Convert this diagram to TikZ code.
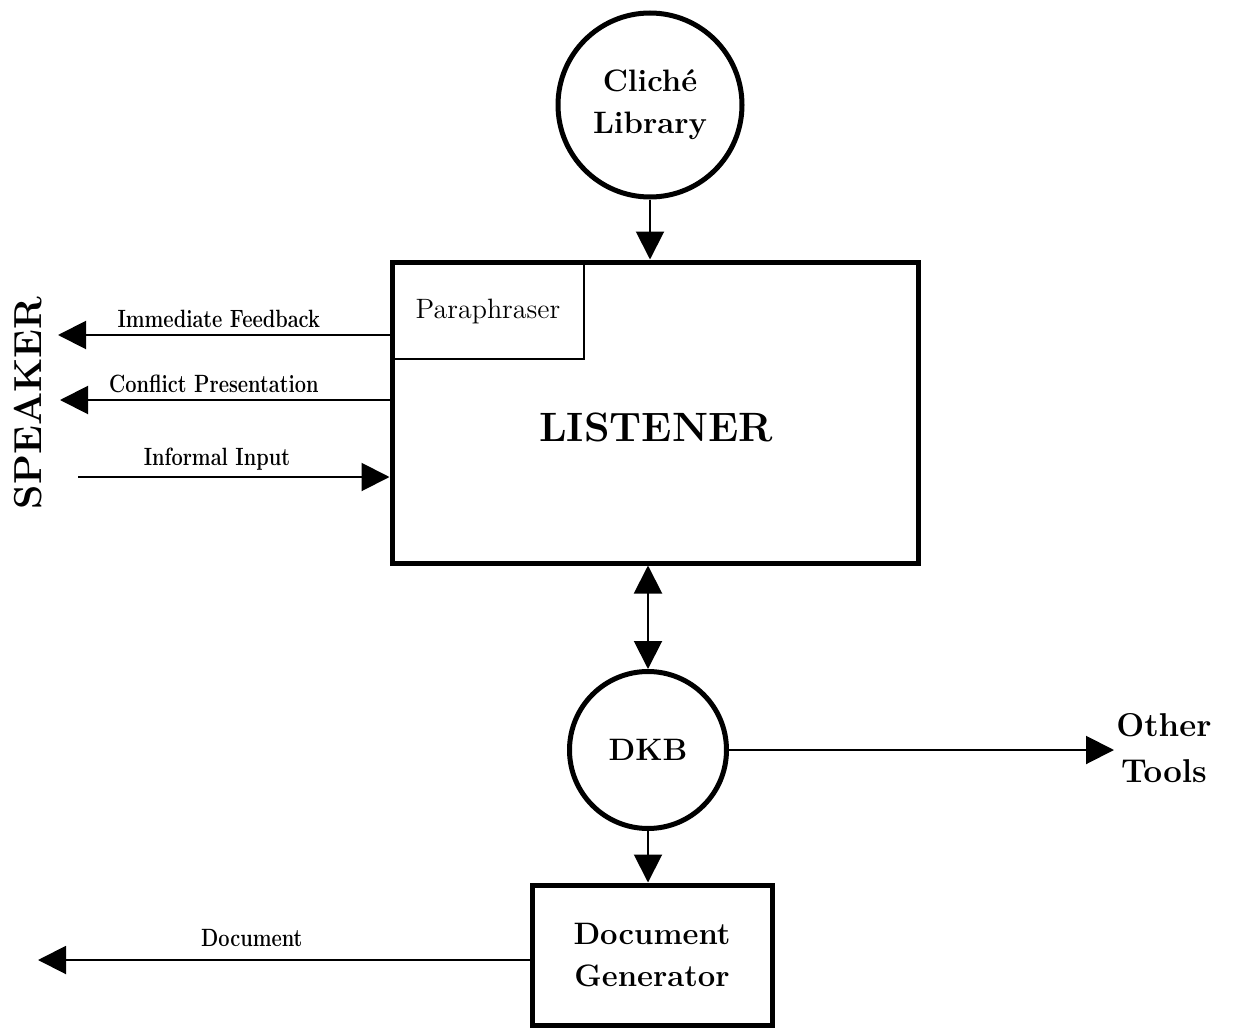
\documentclass[tikz,border=0pt]{standalone}
\usetikzlibrary{arrows.meta,positioning,calc}
\newcommand\cndtext[1]{\scalebox{0.8}[1]{#1}}
\begin{document}
\begin{tikzpicture}[x=0.5pt,y=-0.5pt,
  thickline/.style={line width=2.5pt},
  arr/.style={line width=1pt,-{Triangle[length=14pt,width=14pt]}},
  darr/.style={line width=1pt,{Triangle[length=14pt,width=14pt]}-{Triangle[length=14pt,width=14pt]}},
  bigcirc/.style={circle,thickline,draw,inner sep=0pt,align=center,font=\fontsize{15.5}{21}\bfseries\selectfont},
  bigbox/.style={rectangle,thickline,draw,inner sep=0pt,align=center,font=\fontsize{15.5}{21}\bfseries\selectfont},
  lbl/.style={font=\fontsize{12.5}{14}\bfseries\selectfont,inner sep=3pt}
]
\useasboundingbox (0,0) rectangle (1233,1028);

% nodes
\node[bigcirc,minimum size=92pt] (cliche) at (650,105) {Clich\'e\\Library};
\node[bigbox,minimum width=263pt,minimum height=150.5pt] (listener) at (655,412.5) {};
\node[font=\fontsize{20.5}{24}\bfseries\selectfont] (listenerlabel) at (656,427) {LISTENER};
\node[rectangle,draw,line width=1.3pt,minimum width=96pt,minimum height=48pt,inner sep=0pt,
      font=\fontsize{14}{16}\selectfont] (para) at (488,311) {Paraphraser};
\node[font=\fontsize{19.5}{22}\bfseries\selectfont,rotate=90] (speaker) at (28,403) {SPEAKER};
\node[bigcirc,minimum size=78.5pt] (dkb) at (648,750) {DKB};
\node[anchor=west,inner sep=1pt,align=center,font=\fontsize{16.5}{23}\bfseries\selectfont] (other) at (1114,748) {Other\\Tools};
\node[bigbox,minimum width=120pt,minimum height=70pt] (docgen) at (652,955) {Document\\Generator};

% free ends
\coordinate (ifEnd) at (58,335);
\coordinate (cpEnd) at (60,400);
\coordinate (iiStart) at (78,477);
\coordinate (docEnd) at (38,960);

% connectors
\draw[arr] (cliche.south) -- (cliche.south |- listener.north);
\draw[arr] (ifEnd -| listener.west) -- node[lbl,above,pos=0.515] {\cndtext{Immediate Feedback}} (ifEnd);
\draw[arr] (cpEnd -| listener.west) -- node[lbl,above,pos=0.533] {\cndtext{Conflict Presentation}} (cpEnd);
\draw[arr] (iiStart) -- node[lbl,above,pos=0.446] {\cndtext{Informal Input}} (iiStart -| listener.west);
\draw[darr] (dkb.north |- listener.south) -- (dkb.north);
\draw[arr] (dkb.east) -- (dkb.east -| other.west);
\draw[arr] (dkb.south) -- (dkb.south |- docgen.north);
\draw[arr] (docEnd -| docgen.west) -- node[lbl,above,pos=0.565,yshift=3pt] {\cndtext{Document}} (docEnd);
\end{tikzpicture}
\end{document}
